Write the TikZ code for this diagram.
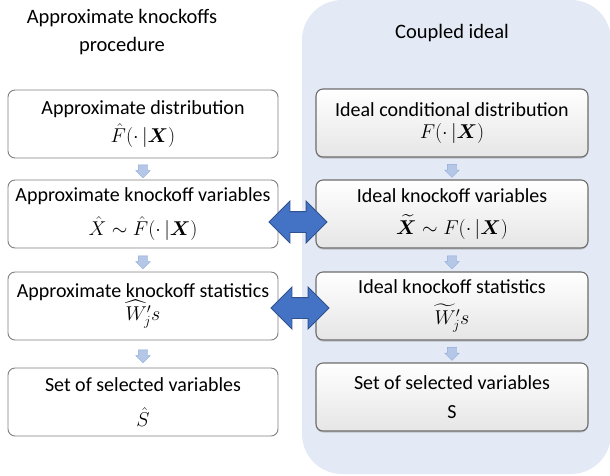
\documentclass[tikz,border=0pt]{standalone}
\usepackage{fix-cm}
\usepackage{amsmath,bm}
\usepackage{fontspec}
\setmainfont{Carlito}
\usetikzlibrary{shapes.arrows,shadows,calc}

\definecolor{panelblue}{HTML}{E4EAF5}
\definecolor{boxgray}{HTML}{7F7F7F}
\definecolor{flowblue}{HTML}{B4C7E7}
\definecolor{flowedge}{HTML}{8FAADC}
\definecolor{linkblue}{HTML}{4472C4}
\definecolor{linkedge}{HTML}{2F528F}

\tikzset{
  approxbox/.style={draw=boxgray, line width=0.9pt, fill=white, rounded corners=7pt,
    minimum width=270pt, minimum height=68pt, inner sep=0pt, align=center,
    font=\fontsize{20}{24}\selectfont},
  idealbox/.style={approxbox, draw=boxgray!85!black, line width=1.1pt,
    top color=white, bottom color=gray!20, minimum width=272pt,
    drop shadow={shadow xshift=0pt, shadow yshift=-1.5pt, opacity=.4}},
  flowarrow/.style={single arrow, draw=flowedge, fill=flowblue, line width=.4pt,
    minimum height=13pt, single arrow head extend=2.5pt, inner sep=0pt, rotate=-90},
  linkarrow/.style={double arrow, draw=linkedge, fill=linkblue, line width=.8pt,
    minimum height=58pt, double arrow head extend=10.5pt, inner sep=0pt},
  heading/.style={align=center, font=\fontsize{20.5}{28}\selectfont}
}

\begin{document}
\begin{tikzpicture}[x=1pt, y=-1pt]
  \useasboundingbox (0,0) rectangle (610,475);
  % coupled ideal panel
  \begin{scope}
    \clip (0,0) rectangle (610,475);
    \fill[panelblue, rounded corners=40pt] (302,0) rectangle (611,474);
  \end{scope}

  \node[heading] (tapprox) at (122,32) {Approximate knockoffs\\procedure};
  \node[heading] (tideal) at (452,33) {Coupled ideal};

  % approximate column
  \node[approxbox] (a1) at (143,124) {Approximate distribution\\[4pt]$\hat{F}(\cdot\,|\bm{X})$};
  \node[approxbox] (a2) at (143,214) {Approximate knockoff variables\\[10pt]$\hat{X} \sim \hat{F}(\cdot\,|\bm{X})$};
  \node[approxbox] (a3) at (143,306) {Approximate knockoff statistics\\[-1pt]$\widehat{W}_j's$};
  \node[approxbox] (a4) at (143,402) {Set of selected variables\\[11pt]$\hat{S}$};

  % ideal column
  \node[idealbox] (i1) at (452,123) {Ideal conditional distribution\\[-2pt]$F(\cdot\,|\bm{X})$};
  \node[idealbox] (i2) at (452,214) {Ideal knockoff variables\\[8pt]$\widetilde{\bm{X}} \sim F(\cdot\,|\bm{X})$};
  \node[idealbox] (i3) at (452,306) {Ideal knockoff statistics\\[7pt]$\widetilde{W}_j's$};
  \node[idealbox] (i4) at (452,397) {Set of selected variables\\[5pt]S};

  % flow between steps
  \foreach \u/\v in {a1/a2, a2/a3, a3/a4, i1/i2, i2/i3, i3/i4}
    \node[flowarrow] (f\u) at ($(\u.south)!0.5!(\v.north)$) {\rule{0pt}{9pt}};

  % coupling
  \node[linkarrow] (l2) at (298,222) {\rule{0pt}{20pt}};
  \node[linkarrow] (l3) at (300,308) {\rule{0pt}{20pt}};
\end{tikzpicture}
\end{document}
